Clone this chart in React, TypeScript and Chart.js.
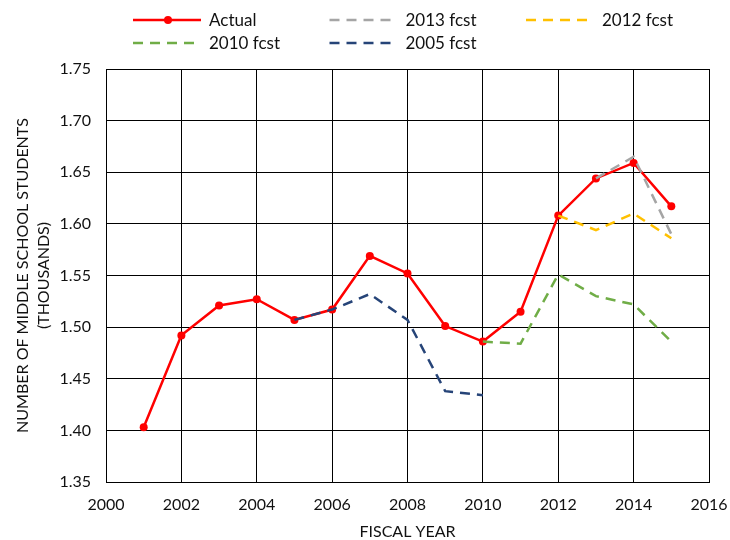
import React, { useEffect, useRef } from "react";
import { Chart, registerables } from "chart.js";

Chart.register(...registerables);

const actualYears = [2001, 2002, 2003, 2004, 2005, 2006, 2007, 2008, 2009, 2010, 2011, 2012, 2013, 2014, 2015];
const actualValues = [1.403, 1.492, 1.521, 1.527, 1.507, 1.517, 1.569, 1.552, 1.501, 1.486, 1.515, 1.608, 1.644, 1.659, 1.617];

const fcst2013Years = [2013, 2014, 2015];
const fcst2013Values = [1.644, 1.665, 1.59];

const fcst2012Years = [2012, 2013, 2014, 2015];
const fcst2012Values = [1.608, 1.594, 1.61, 1.586];

const fcst2010Years = [2010, 2011, 2012, 2013, 2014, 2015];
const fcst2010Values = [1.486, 1.484, 1.551, 1.53, 1.522, 1.486];

const fcst2005Years = [2005, 2006, 2007, 2008, 2009, 2010];
const fcst2005Values = [1.507, 1.517, 1.532, 1.507, 1.438, 1.434];

const seriesLabels = ["Actual", "2013 fcst", "2012 fcst", "2010 fcst", "2005 fcst"];
const yTitle = ["NUMBER OF MIDDLE SCHOOL STUDENTS", "(THOUSANDS)"];
const xTitle = "FISCAL YEAR";

const FONT = "Lato, 'Open Sans', sans-serif";
const TEXT = "#111111";

const pts = (xs: number[], ys: number[]) => xs.map((x, i) => ({ x, y: ys[i] }));

const legendPlugin = {
  id: "customLegend",
  afterDraw(chart: any) {
    const ctx = chart.ctx;
    ctx.save();
    chart.data.datasets.forEach((ds: any, i: number) => {
      const col = i % 3;
      const row = Math.floor(i / 3);
      const x0 = 133 + col * 196.5;
      const y = 20 + row * 23;
      ctx.strokeStyle = ds.borderColor;
      ctx.lineWidth = ds.borderWidth;
      ctx.setLineDash(ds.borderDash || []);
      ctx.beginPath();
      ctx.moveTo(x0, y);
      ctx.lineTo(x0 + 68, y);
      ctx.stroke();
      ctx.setLineDash([]);
      if (ds.pointRadius > 0) {
        ctx.fillStyle = ds.borderColor;
        ctx.beginPath();
        ctx.arc(x0 + 35, y, 4, 0, Math.PI * 2);
        ctx.fill();
      }
      ctx.fillStyle = TEXT;
      ctx.font = `17px ${FONT}`;
      ctx.textBaseline = "middle";
      ctx.textAlign = "left";
      ctx.fillText(ds.label, x0 + 76, y + 1);
    });
    ctx.restore();
  },
};

export default function App() {
  const ref = useRef<HTMLCanvasElement>(null);
  useEffect(() => {
    if (!ref.current) return;
    const dash = [10, 7];
    const chart = new Chart(ref.current, {
      type: "line",
      data: {
        datasets: [
          {
            label: seriesLabels[0],
            data: pts(actualYears, actualValues),
            borderColor: "#FF0000",
            backgroundColor: "#FF0000",
            borderWidth: 2.5,
            pointRadius: 4,
            pointBackgroundColor: "#FF0000",
            pointBorderWidth: 0,
            order: 1,
          },
          {
            label: seriesLabels[1],
            data: pts(fcst2013Years, fcst2013Values),
            borderColor: "#A5A5A5",
            borderWidth: 2.5,
            borderDash: dash,
            pointRadius: 0,
            order: 0,
          },
          {
            label: seriesLabels[2],
            data: pts(fcst2012Years, fcst2012Values),
            borderColor: "#FFC000",
            borderWidth: 2.5,
            borderDash: dash,
            pointRadius: 0,
            order: 0,
          },
          {
            label: seriesLabels[3],
            data: pts(fcst2010Years, fcst2010Values),
            borderColor: "#70AD47",
            borderWidth: 2.5,
            borderDash: dash,
            pointRadius: 0,
            order: 0,
          },
          {
            label: seriesLabels[4],
            data: pts(fcst2005Years, fcst2005Values),
            borderColor: "#264478",
            borderWidth: 2.5,
            borderDash: dash,
            pointRadius: 0,
            order: 0,
          },
        ] as any,
      },
      options: {
        animation: false,
        responsive: false,
        maintainAspectRatio: false,
        layout: { padding: { top: 69, right: 21, left: 0, bottom: 0 } },
        plugins: { legend: { display: false }, tooltip: { enabled: false } },
        scales: {
          x: {
            type: "linear",
            min: 2000,
            max: 2016,
            ticks: {
              stepSize: 2,
              color: TEXT,
              font: { family: FONT, size: 16 },
              padding: 13,
              callback: (v: any) => String(v),
            },
            grid: { color: "#000000", lineWidth: 1, drawTicks: false },
            border: { color: "#000000", width: 1 },
            title: {
              display: true,
              text: xTitle,
              color: TEXT,
              font: { family: FONT, size: 16, lineHeight: 1.0 },
              padding: { top: 0, bottom: 0 },
            },
            afterFit: (s: any) => {
              s.height = 58;
              s.paddingLeft = 0;
              s.paddingRight = 0;
            },
          },
          y: {
            min: 1.35,
            max: 1.75,
            ticks: {
              stepSize: 0.05,
              color: TEXT,
              font: { family: FONT, size: 16 },
              padding: 15,
              callback: (v: any) => Number(v).toFixed(2),
            },
            grid: { color: "#000000", lineWidth: 1, drawTicks: false },
            border: { color: "#000000", width: 1 },
            title: {
              display: true,
              text: yTitle,
              color: TEXT,
              font: { family: FONT, size: 16, lineHeight: 1.344 },
              padding: { top: 12, bottom: 0 },
            },
            afterFit: (s: any) => {
              s.width = 106;
              s.paddingTop = 0;
              s.paddingBottom = 0;
            },
          },
        },
      },
      plugins: [legendPlugin],
    });
    return () => chart.destroy();
  }, []);
  return (
    <div style={{ position: "fixed", left: 0, top: 0, width: 730, height: 540, background: "#fff" }}>
      <canvas ref={ref} width={730} height={540} style={{ width: 730, height: 540 }} />
    </div>
  );
}
